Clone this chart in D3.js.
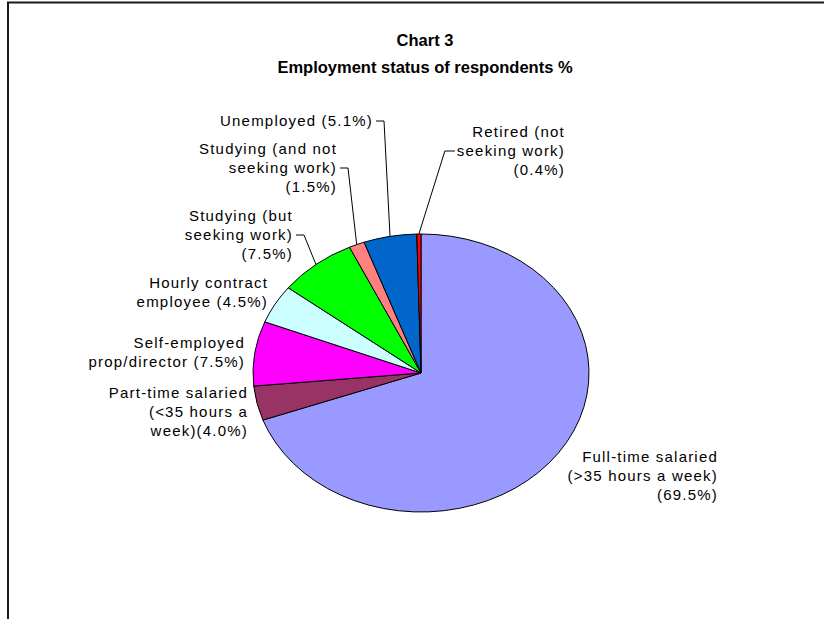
<!DOCTYPE html>
<html>
<head>
<meta charset="utf-8">
<script src="https://cdn.jsdelivr.net/npm/d3@7"></script>
<style>
  html, body { margin: 0; padding: 0; background: #fff; }
  svg { display: block; }
</style>
</head>
<body>
<svg id="chart" width="824" height="619"></svg>
<script>
// Employment status of respondents, percent
const categories = [
  "Full-time salaried (>35 hours a week)",
  "Part-time salaried (<35 hours a week)",
  "Self-employed prop/director",
  "Hourly contract employee",
  "Studying (but seeking work)",
  "Studying (and not seeking work)",
  "Unemployed",
  "Retired (not seeking work)"
];
const values = [69.5, 4.0, 7.5, 4.5, 7.5, 1.5, 5.1, 0.4];
// Label text per slice, broken into lines; {v} is replaced by the value
const labelLines = [
  ["Full-time salaried", "(>35 hours a week)", "({v})"],
  ["Part-time salaried", "(<35 hours a", "week)({v})"],
  ["Self-employed", "prop/director ({v})"],
  ["Hourly contract", "employee ({v})"],
  ["Studying (but", "seeking work)", "({v})"],
  ["Studying (and not", "seeking work)", "({v})"],
  ["Unemployed ({v})"],
  ["Retired (not", "seeking work)", "({v})"]
];
const sliceColors = ["#9999FF", "#993366", "#FF00FF", "#CCFFFF", "#00FF00", "#FF8080", "#0066CC", "#FF0000"];

// Layout: label right edge, first-line centre, and optional leader (line index, side)
const labelLayout = [
  { x: 718, y: 457 },
  { x: 248, y: 393 },
  { x: 245, y: 343 },
  { x: 268, y: 283 },
  { x: 293, y: 216, leader: { line: 1, side: "right" } },
  { x: 337, y: 149, leader: { line: 1, side: "right" } },
  { x: 373, y: 121, leader: { line: 0, side: "right" } },
  { x: 565, y: 132, leader: { line: 1, side: "left" } }
];

const W = 824, H = 619;
const cx = 421, cy = 373, rx = 168, ry = 139;
const lineH = 19;
const fmt = v => d3.format(".1f")(v) + "%";

const svg = d3.select("#chart");

// Chart frame (top and left edges)
svg.append("path")
  .attr("d", `M8,${H} V2.5 H${W}`)
  .attr("fill", "none")
  .attr("stroke", "#1a1a1a")
  .attr("stroke-width", 2);

// Title
const title = svg.append("text")
  .attr("x", 425)
  .attr("text-anchor", "middle")
  .attr("font-family", "'Liberation Sans', Arial, sans-serif")
  .attr("font-weight", "bold")
  .attr("font-size", "16.5px")
  .attr("fill", "#000");
title.append("tspan").attr("x", 425).attr("y", 46).text("Chart 3");
title.append("tspan").attr("x", 425).attr("y", 73).text("Employment status of respondents %");

// Pie, drawn clockwise from 12 o'clock and stretched into an ellipse
const pie = d3.pie().sort(null).value(d => d.value).startAngle(0).endAngle(2 * Math.PI);
const data = categories.map((c, i) => ({ name: c, value: values[i], color: sliceColors[i], lines: labelLines[i], layout: labelLayout[i] }));
const arcs = pie(data);
const arc = d3.arc().innerRadius(0).outerRadius(ry);

const pieG = svg.append("g")
  .attr("transform", `translate(${cx},${cy}) scale(${rx / ry},1)`);

pieG.selectAll("path")
  .data(arcs)
  .join("path")
  .attr("d", arc)
  .attr("fill", d => d.data.color)
  .attr("stroke", "#000")
  .attr("stroke-width", 1)
  .attr("vector-effect", "non-scaling-stroke")
  .attr("stroke-linejoin", "round");

// Point on the ellipse edge at a slice's mid-angle
function edgePoint(d) {
  const a = (d.startAngle + d.endAngle) / 2;
  return [cx + rx * Math.sin(a), cy - ry * Math.cos(a)];
}

// Labels
const labelG = svg.append("g")
  .attr("font-family", "'Liberation Sans', Arial, sans-serif")
  .attr("font-size", "15px")
  .attr("letter-spacing", "1.2px")
  .attr("fill", "#000");

arcs.forEach(d => {
  const L = d.data.layout;
  const t = labelG.append("text").attr("text-anchor", "end");
  const spans = d.data.lines.map((s, k) =>
    t.append("tspan")
      .attr("x", L.x)
      .attr("y", L.y + k * lineH)
      .attr("dy", "0.35em")
      .text(s.replace("{v}", fmt(d.data.value)))
  );
  if (L.leader) {
    const ly = L.y + L.leader.line * lineH;
    const [ex, ey] = edgePoint(d);
    let x0, x1;
    if (L.leader.side === "right") {
      x0 = L.x + 3; x1 = L.x + 11;
    } else {
      const w = spans[L.leader.line].node().getComputedTextLength();
      x0 = L.x - w - 2; x1 = x0 - 10;
    }
    svg.append("path")
      .attr("d", `M${x0},${ly} H${x1} L${ex},${ey}`)
      .attr("fill", "none")
      .attr("stroke", "#000")
      .attr("stroke-width", 1);
  }
});
</script>
</body>
</html>
